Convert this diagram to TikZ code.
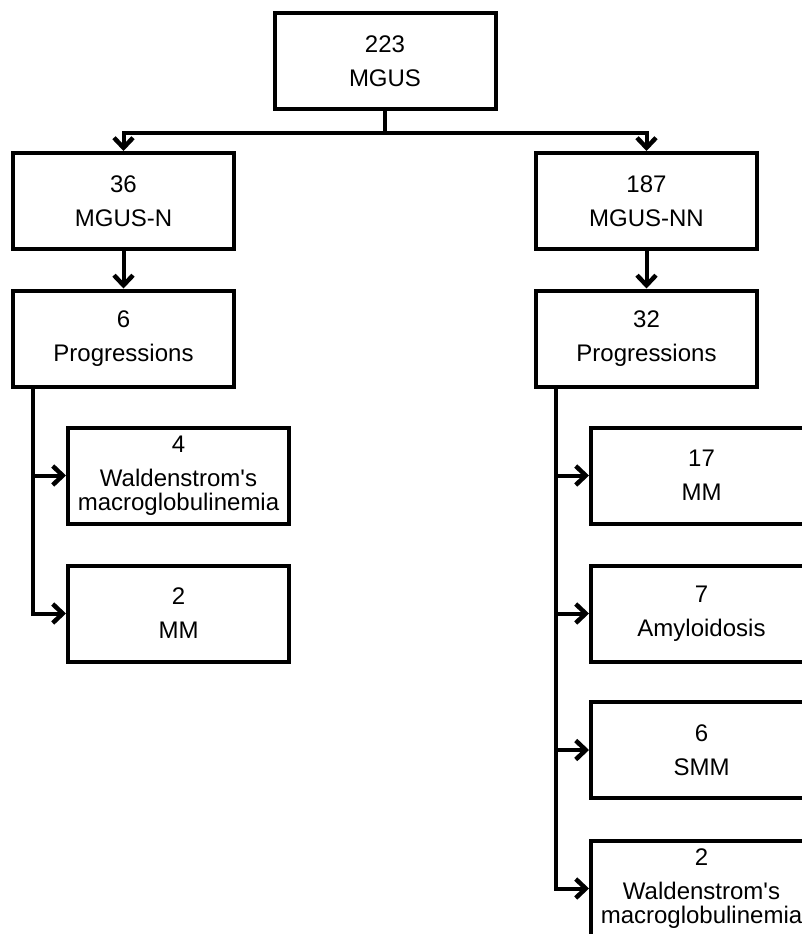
\documentclass[tikz,border=0pt]{standalone}
\usepackage{fontspec}
\setmainfont{Liberation Sans}[Ligatures=TeXOff]
\usetikzlibrary{arrows.meta}
\begin{document}
\begin{tikzpicture}[x=1pt,y=-1pt,
  box/.style={draw, line width=4pt, minimum width=221pt, minimum height=96pt,
    align=center, inner sep=0pt, font=\fontsize{24}{24}\selectfont},
  conn/.style={line width=4pt},
  arr/.style={conn, -{Straight Barb[length=10pt,width=19pt,line width=4.5pt]}}]
\useasboundingbox (0,0) rectangle (802,934);
\clip (0,0) rectangle (802,934);
\fill[white] (0,0) rectangle (802,934);

\node[box] (top) at (385,61) {223\\[10pt]MGUS};
\node[box] (n) at (123.5,201) {36\\[10pt]MGUS-N};
\node[box] (nn) at (646.5,201) {187\\[10pt]MGUS-NN};
\node[box] (pl) at (123.5,338.5) {6\\[10pt]Progressions};
\node[box] (pr) at (646.5,338.5) {32\\[10pt]Progressions};

\node[box] (wl) at (178.5,475.5) {4\\[10pt]Waldenstrom's\\macroglobulinemia};
\node[box] (ml) at (178.5,613.5) {2\\[10pt]MM};

\node[box] (r1) at (701.5,475.5) {17\\[10pt]MM};
\node[box] (r2) at (701.5,613.5) {7\\[10pt]Amyloidosis};
\node[box] (r3) at (701.5,750) {6\\[10pt]SMM};
\node[box] (r4) at (701.5,888.5) {2\\[10pt]Waldenstrom's\\macroglobulinemia};

\coordinate (j) at (385,133);
\draw[conn] (top.south) -- ([yshift=2pt]j);
\draw[arr] (j) -| (n.north);
\draw[arr] (j) -| (nn.north);
\draw[arr] (n.south) -- (pl.north);
\draw[arr] (nn.south) -- (pr.north);

\draw[arr] ([xshift=22pt]pl.south west) |- (wl.west);
\draw[arr] ([xshift=22pt]pl.south west) |- (ml.west);

\draw[arr] ([xshift=22pt]pr.south west) |- (r1.west);
\draw[arr] ([xshift=22pt]pr.south west) |- (r2.west);
\draw[arr] ([xshift=22pt]pr.south west) |- (r3.west);
\draw[arr] ([xshift=22pt]pr.south west) |- (r4.west);
\end{tikzpicture}
\end{document}
